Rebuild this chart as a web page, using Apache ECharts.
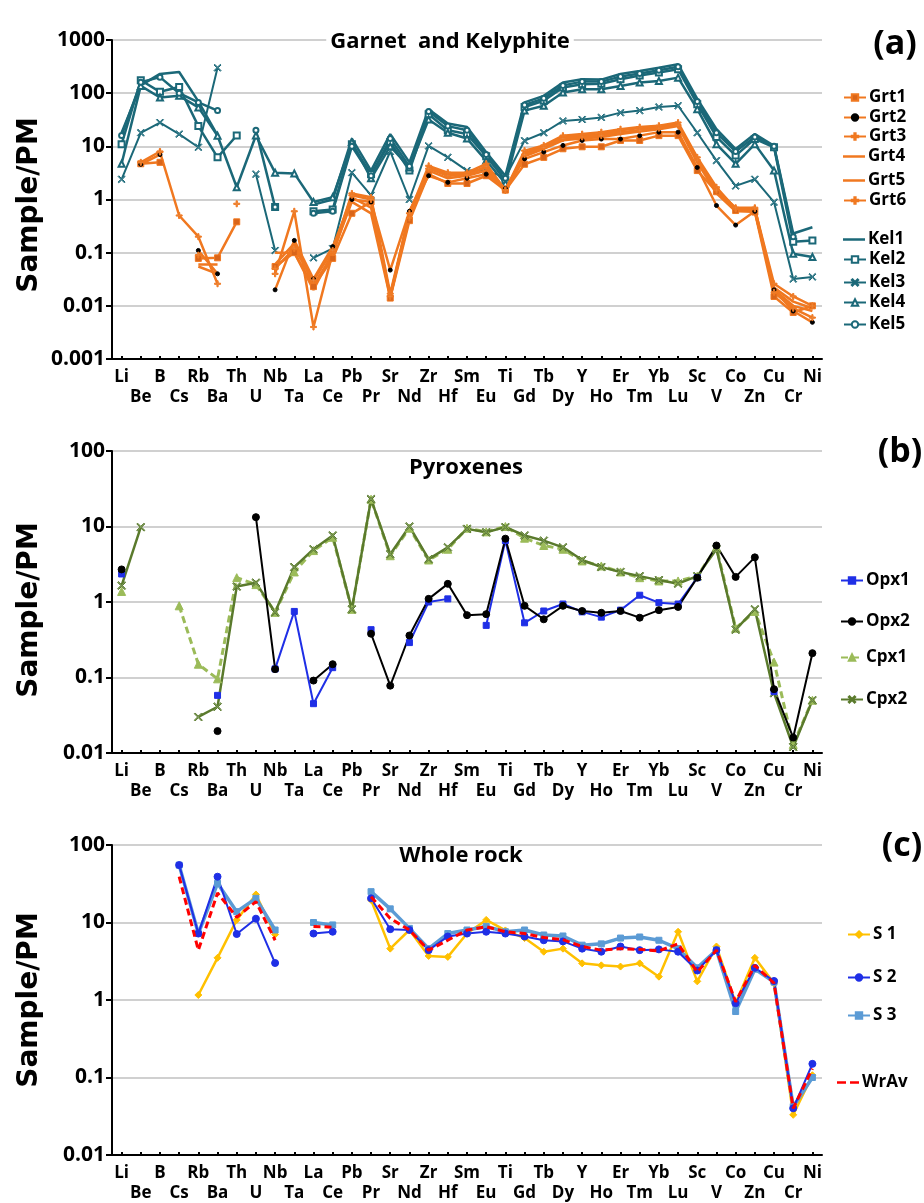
<!DOCTYPE html>
<html><head><meta charset="utf-8">
<script src="https://cdn.jsdelivr.net/npm/echarts@6/dist/echarts.min.js"></script>
<style>html,body{margin:0;padding:0;background:#fff}#c{width:924px;height:1203px}</style>
</head><body><div id="c"></div>
<script>
const categories = ['Li','Be','B','Cs','Rb','Ba','Th','U','Nb','Ta','La','Ce','Pb','Pr','Sr','Nd','Zr','Hf','Sm','Eu','Ti','Gd','Tb','Dy','Y','Ho','Er','Tm','Yb','Lu','Sc','V','Co','Zn','Cu','Cr','Ni'];
const yTicksA = [0.001,0.01,0.1,1,10,100,1000];
const yTicksBC = [0.01,0.1,1,10,100];

// Panel (a) Garnet and Kelyphite
const grt1 = [null,4.7,5.0,null,0.078,0.08,0.38,null,0.055,0.1,0.023,0.078,0.55,0.9,0.014,0.4,3.0,2.0,2.0,2.8,1.5,4.6,6.2,9.0,9.8,9.8,12.9,12.9,15.9,15.9,3.5,1.4,0.62,0.58,0.015,0.0075,0.01];
const grt2 = [null,4.6,7.0,null,0.11,0.04,null,null,0.02,0.17,0.032,0.13,1.0,0.9,0.047,0.6,2.8,2.1,2.5,3.0,1.6,5.8,7.8,10.4,12.9,13.7,13.7,15.9,18.5,18.5,4.0,0.77,0.33,0.6,0.02,0.008,0.0049];
const grt3 = [null,null,7.8,0.5,0.2,0.026,null,null,0.04,0.6,0.004,0.1,1.3,1.1,0.017,0.55,4.3,3.2,3.2,4.7,1.5,8.3,10.4,15.9,17,18.5,21,23,24.5,28,6.2,1.7,0.67,0.67,0.026,0.015,0.01];
const grt4 = [null,null,3.5,null,0.055,0.04,null,null,0.1,0.1,0.02,0.1,0.9,0.55,0.014,0.6,3.5,2.5,2.8,3.5,1.4,6.5,9,13,14,15,17,19,21,24,5,1.3,0.6,0.6,0.02,0.01,0.008];
const grt5 = [null,null,null,null,0.06,0.06,null,null,0.06,0.15,0.025,0.09,1.1,0.7,0.016,0.5,4.0,3.0,3.0,4.0,1.5,7.5,10,15,16,17,20,22,23,26,5.8,1.6,0.65,0.65,0.022,0.012,0.009];
const grt6 = [null,5.0,8.0,null,0.09,null,0.83,null,0.05,0.12,0.03,0.11,1.2,1.0,0.015,0.45,3.8,2.8,2.9,4.2,1.5,7,9.5,14,15,16,18.5,20,22,25,5.5,1.5,0.7,0.7,0.018,0.009,0.006];
const kel1 = [18,140,230,250,70,16,null,null,1.1,null,0.8,1.0,14,3.5,17,5,50,27,23,7.7,2.8,67,89,158,182,180,229,262,302,350,78,21,8.9,17,10.2,0.23,0.30];
const kel2 = [11,175,106,131,24,6.2,16,null,0.72,null,0.6,0.65,11,3.0,12,3.5,40,20,17,6.5,2.3,55,72,128,147,150,182,214,245,282,62,15,6.7,13.8,9.6,0.16,0.17];
const kel3 = [2.4,18,28,17,9.6,300,null,3.0,0.11,null,0.08,0.12,3.2,1.2,8,1.0,10.2,6.2,3.5,3.5,2.6,12.8,18,30,32,35,43,47,55,58,18,5.4,1.8,2.4,0.89,0.032,0.035];
const kel4 = [4.7,137,83,89,54,15.8,1.7,16,3.2,3.1,0.9,1.1,12,2.5,10,4,32,18,14,5.4,2.0,47,58,103,119,118,137,158,170,196,50,11,4.7,11,3.5,0.095,0.083];
const kel5 = [16,160,200,100,67,47,null,20,0.72,null,0.55,0.6,10,2.8,14,4.2,45,24,20,7,2.5,60,80,140,165,165,205,235,270,315,70,18,8,15,10,0.2,null];

// Panel (b) Pyroxenes
const opx1 = [2.35,null,null,null,null,0.058,null,null,0.13,0.75,0.045,0.135,null,0.43,null,0.29,1.0,1.1,null,0.49,6.5,0.53,0.76,0.94,0.74,0.63,0.78,1.23,0.98,0.94,2.1,null,null,null,0.065,null,null];
const opx2 = [2.7,null,null,null,null,0.0195,null,13.3,0.129,null,0.091,0.15,null,0.38,0.078,0.36,1.1,1.74,0.67,0.69,6.9,0.89,0.59,0.89,0.76,0.72,0.76,0.62,0.78,0.86,2.1,5.6,2.15,3.9,0.07,0.016,0.21];
const cpx1 = [1.38,null,null,0.89,0.15,0.096,2.1,1.7,0.73,2.5,4.8,7.2,0.8,23,4.1,9.5,3.6,5.0,9.5,8.5,10,7,5.6,5.0,3.5,3.0,2.5,2.1,1.9,1.9,2.2,5.3,0.45,0.75,0.16,0.013,0.05];
const cpx2 = [1.65,9.8,null,null,0.030,0.041,1.6,1.8,0.73,2.9,5.0,7.6,0.8,23,4.3,10,3.7,5.3,9.3,8.4,9.8,7.6,6.5,5.3,3.6,2.9,2.5,2.2,1.95,1.75,2.2,5.0,0.43,0.80,0.062,0.012,0.05];

// Panel (c) Whole rock
const s1 = [null,null,null,null,1.16,3.5,10.8,23,7.0,null,null,null,null,19.5,4.6,8.0,3.7,3.6,7.2,10.8,7.9,6.3,4.2,4.6,2.97,2.8,2.7,2.97,2.0,7.6,1.74,4.9,0.91,3.5,1.65,0.033,0.107];
const s2 = [null,null,null,55,7.2,39,7.1,11.2,3.0,null,7.2,7.6,null,20.5,8.2,8.0,4.4,6.6,7.2,7.6,7.2,6.6,5.9,5.7,4.6,4.2,4.9,4.4,4.5,4.2,2.4,4.4,0.91,2.6,1.76,0.04,0.15];
const s3 = [null,null,null,55,7.2,32,13.8,20.5,8.0,null,10,9.3,null,25,15,8.4,4.6,7.2,8.0,8.9,7.6,8.0,6.9,6.7,5.1,5.3,6.3,6.5,5.9,4.6,2.6,4.4,0.71,2.5,1.7,0.042,0.10];
const wrav = [null,null,null,39,4.4,24,11.7,18.6,5.9,null,8.9,8.7,null,21.5,11.3,8.0,4.4,5.9,8.0,8.8,7.6,7.2,6.4,6.0,4.9,4.4,4.6,4.5,4.3,5.3,2.3,4.4,0.95,2.8,1.65,0.04,0.13];

const FONT = '"Open Sans", "DejaVu Sans", sans-serif';
const ORANGE = '#F07820', TEAL = '#1B6878';
const CROSS = 'path://M1,0L5,4L9,0L10,1L6,5L10,9L9,10L5,6L1,10L0,9L4,5L0,1Z';
const PLUS = 'path://M4,0H6V4H10V6H6V10H4V6H0V4H4Z';
const LINE_ICON = 'path://M0,0H22V2.5H0Z';
const DASH_ICON = 'path://M0,0H9V2.5H0ZM13,0H22V2.5H13Z';

const grids = [
  {left:112, right:102, top:40, height:319},
  {left:112, right:102, top:451, height:302},
  {left:112, right:102, top:845, height:310}
];
function fmtLog(v){ const e = Math.round(Math.log10(v)); return e >= 0 ? String(Math.pow(10,e)) : Math.pow(10,e).toFixed(-e); }
const xAxes = grids.map((g,i)=>({
  type:'category', gridIndex:i, data:categories, boundaryGap:true,
  axisLine:{show:true, lineStyle:{color:'#000', width:2}},
  axisTick:{show:true, inside:true, alignWithLabel:true, length:3, lineStyle:{color:'#000', width:2}},
  axisLabel:{interval:0, margin:8, color:'#000', fontFamily:FONT, fontWeight:'bold', fontSize:17, lineHeight:20,
    formatter:(v, idx)=> idx % 2 ? '\n' + v : v},
  splitLine:{show:false}
}));
const yAxes = [
  {ticks:yTicksA},{ticks:yTicksBC},{ticks:yTicksBC}
].map((t,i)=>({
  type:'log', logBase:10, gridIndex:i, min:t.ticks[0], max:t.ticks[t.ticks.length-1], splitNumber:t.ticks.length-1,
  axisLine:{show:true, lineStyle:{color:'#000', width:2}},
  axisTick:{show:true, length:6, lineStyle:{color:'#000', width:2}},
  axisLabel:{color:'#000', fontFamily:FONT, fontWeight:'bold', fontSize:21, margin:7, formatter:fmtLog},
  splitLine:{show:true, lineStyle:{color:'#c0c0c0', width:1.5}},
  minorTick:{show:false}
}));

function ser(name, data, gi, color, opts){
  opts = opts || {};
  return {
    name, type:'line', data, xAxisIndex:gi, yAxisIndex:gi, connectNulls:false,
    symbol: opts.symbol || 'none', symbolSize: opts.size || 6, showSymbol: !!opts.symbol, showAllSymbol:true,
    lineStyle:{color, width: opts.width || 2.5, type: opts.dash ? [7,4] : 'solid'},
    itemStyle:{color: opts.fill || color, borderColor: opts.border || color, borderWidth: opts.bw || 1},
    emphasis:{disabled:true}, animation:false, z: opts.z || 2
  };
}
const series = [
  ser('Kel1', kel1, 0, TEAL, {width:2.5}),
  ser('Kel2', kel2, 0, TEAL, {symbol:'emptyRect', size:6, width:2.5, bw:1.2}),
  ser('Kel3', kel3, 0, TEAL, {symbol:CROSS, size:7, width:2, fill:'#5d9aa6'}),
  ser('Kel4', kel4, 0, TEAL, {symbol:'emptyTriangle', size:6, width:2.5, bw:1.2}),
  ser('Kel5', kel5, 0, TEAL, {symbol:'emptyCircle', size:5, width:2.5, bw:1.2}),
  ser('Grt1', grt1, 0, ORANGE, {symbol:'rect', size:6, fill:'#D9651A', z:3}),
  ser('Grt2', grt2, 0, ORANGE, {symbol:'circle', size:4, fill:'#000', border:'#000', z:3}),
  ser('Grt3', grt3, 0, ORANGE, {symbol:PLUS, size:6, fill:'#E58A45', z:3}),
  ser('Grt4', grt4, 0, ORANGE, {z:3}),
  ser('Grt5', grt5, 0, ORANGE, {z:3}),
  ser('Grt6', grt6, 0, ORANGE, {symbol:PLUS, size:6, fill:'#E58A45', z:3}),
  ser('Cpx1', cpx1, 1, '#9BBB59', {symbol:'triangle', size:8, width:3, dash:true}),
  ser('Cpx2', cpx2, 1, '#5A7A2C', {symbol:CROSS, size:8, width:2.5, fill:'#8CA870'}),
  ser('Opx1', opx1, 1, '#1F2FE6', {symbol:'rect', size:6, width:2}),
  ser('Opx2', opx2, 1, '#000000', {symbol:'circle', size:7, width:2}),
  ser('S 1', s1, 2, '#FFC000', {symbol:'diamond', size:7, width:2.5}),
  ser('S 3', s3, 2, '#5B9BD5', {symbol:'rect', size:6, width:3.5}),
  ser('S 2', s2, 2, '#1F2FE6', {symbol:'circle', size:7, width:2}),
  ser('WrAv', wrav, 2, '#FF0000', {width:3, dash:true, z:4})
];

const legendItems = [
  ['Grt1',843,98],['Grt2',843,118],['Grt3',843,137],['Grt4',843,157,LINE_ICON],['Grt5',843,181,LINE_ICON],['Grt6',843,201],
  ['Kel1',843,240,LINE_ICON],['Kel2',843,260],['Kel3',843,283],['Kel4',843,303],['Kel5',843,325],
  ['Opx1',840,581],['Opx2',840,622],['Cpx1',840,658],['Cpx2',840,700],
  ['S 1',847,935],['S 2',847,978],['S 3',847,1016],['WrAv',837,1083,DASH_ICON]
];
const legends = legendItems.map(([n,x,y,icon])=>{
  const l = {
    data:[n], left:x, top:y-9, orient:'vertical', padding:0, itemGap:0, itemWidth:22, itemHeight: icon ? 2.5 : 8, selectedMode:false,
    textStyle:{color:'#000', fontFamily:FONT, fontWeight:'bold', fontSize:17, padding:[0,0,0,-2]}
  };
  if (icon) { l.icon = icon; l.itemStyle = {borderWidth:0}; }
  return l;
});

function txt(t, x, y, size, opts){
  opts = opts || {};
  return {type:'text', x, y, rotation: opts.rot || 0, z:100,
    style:{text:t, fill:'#000', font:'bold ' + size + 'px ' + (opts.family || FONT), textAlign:'center', textVerticalAlign:'middle',
      backgroundColor: opts.bg || null, padding: opts.bg ? [0,4] : 0}};
}
const graphics = [
  txt('Garnet  and Kelyphite', 450, 42, 22, {bg:'#fff'}),
  txt('Pyroxenes', 466, 468, 22),
  txt('Whole rock', 461, 856, 22),
  txt('(a)', 895, 44, 34),
  txt('(b)', 900, 452, 34),
  txt('(c)', 902, 846, 34),
  txt('Sample/PM', 30, 205, 28, {rot:Math.PI/2, family:'"DejaVu Sans", sans-serif'}),
  txt('Sample/PM', 30, 610, 28, {rot:Math.PI/2, family:'"DejaVu Sans", sans-serif'}),
  txt('Sample/PM', 30, 1000, 28, {rot:Math.PI/2, family:'"DejaVu Sans", sans-serif'})
];

const chart = echarts.init(document.getElementById('c'), null, {renderer:'canvas'});
chart.setOption({
  animation:false, backgroundColor:'#fff',
  grid:grids, xAxis:xAxes, yAxis:yAxes, series, legend:legends, graphic:graphics
});
</script></body></html>
